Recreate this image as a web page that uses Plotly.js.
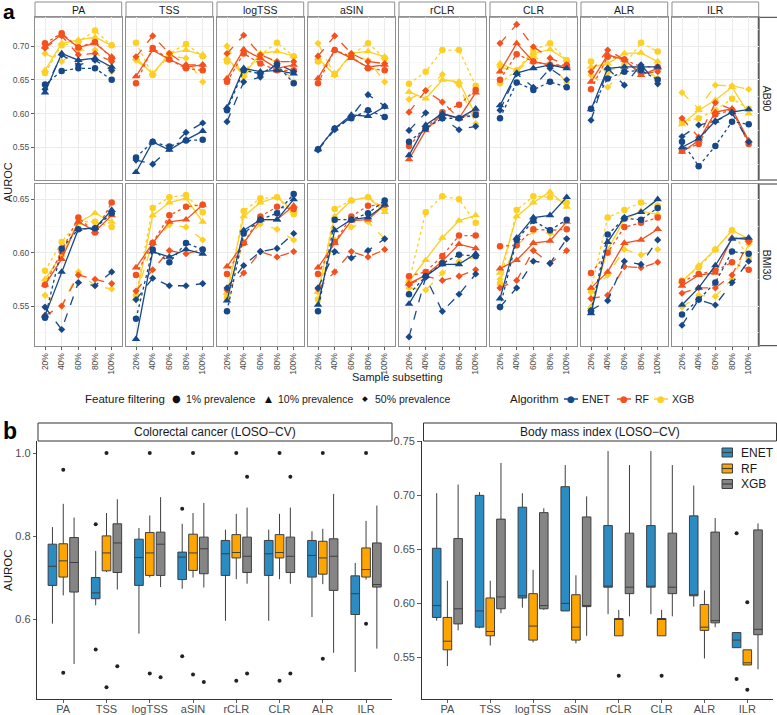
<!DOCTYPE html>
<html><head><meta charset="utf-8">
<script src="https://cdn.plot.ly/plotly-3.0.1.min.js"></script>
<style>html,body{margin:0;padding:0;background:#fff}#chart{width:777px;height:715px}</style>
</head><body><div id="chart"></div>
<script>
// ---------- categories ----------
const normalizations = ['PA','TSS','logTSS','aSIN','rCLR','CLR','ALR','ILR'];
const subsets = ['20%','40%','60%','80%','100%'];
const algorithms = ['ENET','RF','XGB'];
const filterLevels = ['1% prevalence','10% prevalence','50% prevalence'];
const datasetsA = ['AB90','BMI30'];
const yTicksTop = [0.55,0.60,0.65,0.70];
const yTicksBottom = [0.55,0.60,0.65];

// ---------- panel a values: rows = [1%, 10%, 50%] prevalence, cols = subsets ----------
// AB90
const AB90_PA_ENET = [[0.643,0.663,0.667,0.667,0.650],[0.631,0.689,0.679,0.682,0.669],[0.636,0.687,0.672,0.679,0.664]];
const AB90_PA_RF   = [[0.704,0.719,0.698,0.706,0.682],[0.699,0.717,0.698,0.704,0.684],[0.697,0.715,0.687,0.689,0.677]];
const AB90_PA_XGB  = [[0.660,0.701,0.706,0.723,0.701],[0.664,0.704,0.709,0.713,0.701],[0.689,0.677,0.694,0.694,0.662]];
const AB90_TSS_ENET = [[0.535,0.558,0.551,0.560,0.561],[0.513,0.558,0.546,0.561,0.574],[0.531,0.525,0.548,0.572,0.586]];
const AB90_TSS_RF   = [[0.645,0.697,0.680,0.667,0.664],[0.655,0.694,0.680,0.669,0.672],[0.684,0.715,0.689,0.672,0.672]];
const AB90_TSS_XGB  = [[0.705,0.657,0.689,0.703,0.685],[0.682,0.659,0.689,0.694,0.687],[0.679,0.659,0.685,0.682,0.647]];
const AB90_logTSS_ENET = [[0.605,0.664,0.659,0.672,0.645],[0.609,0.667,0.662,0.664,0.659],[0.588,0.647,0.654,0.674,0.662]];
const AB90_logTSS_RF   = [[0.647,0.689,0.674,0.664,0.664],[0.652,0.695,0.682,0.667,0.672],[0.689,0.716,0.687,0.677,0.677]];
const AB90_logTSS_XGB  = [[0.677,0.662,0.687,0.705,0.685],[0.682,0.657,0.689,0.692,0.685],[0.700,0.654,0.684,0.677,0.647]];
const AB90_aSIN_ENET = [[0.547,0.578,0.593,0.605,0.595],[0.547,0.578,0.598,0.596,0.610],[0.546,0.576,0.595,0.628,0.611]];
const AB90_aSIN_RF   = [[0.645,0.694,0.684,0.667,0.664],[0.652,0.694,0.682,0.669,0.672],[0.685,0.715,0.689,0.677,0.674]];
const AB90_aSIN_XGB  = [[0.677,0.659,0.687,0.704,0.682],[0.682,0.657,0.689,0.692,0.684],[0.704,0.657,0.687,0.679,0.647]];
const AB90_rCLR_ENET = [[0.558,0.578,0.593,0.593,0.598],[0.538,0.583,0.600,0.593,0.607],[0.575,0.601,0.593,0.576,0.581]];
const AB90_rCLR_RF   = [[0.552,0.578,0.602,0.613,0.635],[0.532,0.575,0.599,0.593,0.631],[0.602,0.634,0.617,0.593,0.602]];
const AB90_rCLR_XGB  = [[0.644,0.662,0.694,0.694,0.641],[0.632,0.622,0.650,0.647,0.598],[0.621,0.634,0.658,0.642,0.585]];
const AB90_CLR_ENET = [[0.593,0.646,0.635,0.647,0.639],[0.612,0.660,0.667,0.672,0.667],[0.605,0.659,0.639,0.667,0.650]];
const AB90_CLR_RF   = [[0.650,0.688,0.677,0.672,0.672],[0.662,0.704,0.677,0.672,0.670],[0.704,0.732,0.699,0.682,0.672]];
const AB90_CLR_XGB  = [[0.645,0.664,0.694,0.704,0.679],[0.674,0.664,0.689,0.695,0.679],[0.669,0.662,0.684,0.674,0.646]];
const AB90_ALR_ENET = [[0.607,0.652,0.662,0.664,0.650],[0.606,0.667,0.669,0.669,0.669],[0.590,0.667,0.642,0.672,0.644]];
const AB90_ALR_RF   = [[0.636,0.684,0.680,0.669,0.669],[0.647,0.687,0.680,0.657,0.667],[0.662,0.694,0.680,0.659,0.662]];
const AB90_ALR_XGB  = [[0.677,0.662,0.672,0.705,0.692],[0.669,0.674,0.689,0.690,0.677],[0.657,0.639,0.664,0.669,0.652]];
const AB90_ILR_ENET = [[0.558,0.522,0.552,0.588,0.584],[0.550,0.563,0.589,0.602,0.606],[0.566,0.583,0.588,0.601,0.558]];
const AB90_ILR_RF   = [[0.545,0.555,0.599,0.605,0.555],[0.543,0.560,0.602,0.607,0.560],[0.593,0.565,0.616,0.606,0.558]];
const AB90_ILR_XGB  = [[0.588,0.593,0.605,0.622,0.607],[0.584,0.605,0.620,0.639,0.600],[0.631,0.607,0.642,0.641,0.636]];
// BMI30
const BMI30_PA_ENET = [[0.539,0.604,0.622,0.623,0.637],[0.541,0.582,0.622,0.623,0.640],[0.549,0.528,0.572,0.569,0.582]];
const BMI30_PA_RF   = [[0.570,0.601,0.633,0.619,0.647],[0.570,0.594,0.629,0.620,0.635],[0.541,0.550,0.579,0.575,0.571]];
const BMI30_PA_XGB  = [[0.583,0.610,0.629,0.629,0.624],[0.575,0.598,0.628,0.637,0.629],[0.560,0.550,0.582,0.569,0.566]];
const BMI30_TSS_ENET = [[0.538,0.603,0.591,0.609,0.603],[0.519,0.601,0.596,0.603,0.599],[0.556,0.576,0.569,0.569,0.571]];
const BMI30_TSS_RF   = [[0.579,0.609,0.635,0.643,0.645],[0.586,0.609,0.629,0.631,0.645],[0.564,0.584,0.602,0.599,0.603]];
const BMI30_TSS_XGB  = [[0.560,0.642,0.652,0.654,0.638],[0.557,0.635,0.647,0.651,0.629],[0.560,0.610,0.626,0.624,0.612]];
const BMI30_logTSS_ENET = [[0.545,0.618,0.631,0.637,0.655],[0.555,0.621,0.631,0.631,0.650],[0.567,0.588,0.601,0.604,0.618]];
const BMI30_logTSS_RF   = [[0.580,0.609,0.634,0.643,0.641],[0.587,0.609,0.631,0.631,0.644],[0.565,0.581,0.601,0.596,0.601]];
const BMI30_logTSS_XGB  = [[0.558,0.639,0.651,0.652,0.636],[0.562,0.634,0.647,0.652,0.639],[0.562,0.610,0.627,0.622,0.612]];
const BMI30_aSIN_ENET = [[0.545,0.631,0.631,0.637,0.649],[0.551,0.621,0.631,0.633,0.645],[0.567,0.601,0.595,0.602,0.613]];
const BMI30_aSIN_RF   = [[0.580,0.610,0.634,0.644,0.645],[0.586,0.609,0.630,0.631,0.645],[0.566,0.582,0.601,0.596,0.603]];
const BMI30_aSIN_XGB  = [[0.556,0.641,0.649,0.652,0.641],[0.563,0.634,0.649,0.652,0.638],[0.563,0.612,0.624,0.629,0.613]];
const BMI30_rCLR_ENET = [[0.561,0.578,0.590,0.598,0.597],[0.552,0.578,0.589,0.589,0.599],[0.521,0.577,0.545,0.561,0.580]];
const BMI30_rCLR_RF   = [[0.578,0.582,0.597,0.616,0.616],[0.571,0.579,0.592,0.608,0.604],[0.570,0.578,0.574,0.578,0.584]];
const BMI30_rCLR_XGB  = [[0.573,0.638,0.653,0.650,0.628],[0.573,0.593,0.614,0.630,0.635],[0.567,0.565,0.581,0.592,0.596]];
const BMI30_CLR_ENET = [[0.549,0.612,0.630,0.621,0.631],[0.557,0.614,0.633,0.635,0.652],[0.549,0.567,0.592,0.590,0.613]];
const BMI30_CLR_RF   = [[0.606,0.607,0.622,0.621,0.622],[0.585,0.593,0.609,0.611,0.629],[0.567,0.574,0.602,0.590,0.602]];
const BMI30_CLR_XGB  = [[0.571,0.640,0.653,0.652,0.647],[0.581,0.634,0.647,0.657,0.643],[0.575,0.607,0.620,0.618,0.613]];
const BMI30_ALR_ENET = [[0.545,0.617,0.632,0.631,0.642],[0.543,0.610,0.633,0.638,0.650],[0.546,0.555,0.592,0.589,0.612]];
const BMI30_ALR_RF   = [[0.581,0.600,0.624,0.628,0.633],[0.567,0.582,0.609,0.612,0.622],[0.557,0.560,0.587,0.586,0.591]];
const BMI30_ALR_XGB  = [[0.565,0.633,0.640,0.647,0.644],[0.549,0.603,0.631,0.639,0.636],[0.563,0.579,0.603,0.598,0.603]];
const BMI30_ILR_ENET = [[0.542,0.556,0.572,0.601,0.599],[0.551,0.567,0.588,0.613,0.614],[0.532,0.556,0.551,0.572,0.592]];
const BMI30_ILR_RF   = [[0.573,0.580,0.583,0.591,0.584],[0.569,0.579,0.581,0.614,0.612],[0.562,0.567,0.567,0.579,0.610]];
const BMI30_ILR_XGB  = [[0.574,0.586,0.603,0.621,0.595],[0.573,0.588,0.603,0.621,0.613],[0.549,0.560,0.559,0.575,0.608]];

// ---------- panel b box statistics (per normalization) ----------
const CRC_ENET_lower  = [0.590,0.634,0.566,0.674,0.597,0.597,0.606,0.474];
const CRC_ENET_q1     = [0.682,0.650,0.682,0.696,0.706,0.706,0.702,0.612];
const CRC_ENET_median = [0.728,0.664,0.749,0.750,0.758,0.758,0.754,0.662];
const CRC_ENET_q3     = [0.781,0.701,0.793,0.762,0.790,0.790,0.790,0.705];
const CRC_ENET_upper  = [0.822,0.765,0.820,0.830,0.816,0.816,0.812,0.736];
const CRC_ENET_out    = [[],[0.829,0.528],[],[0.866,0.512],[],[],[],[]];
const CRC_RF_lower  = [0.658,0.714,0.701,0.701,0.697,0.697,0.685,0.696];
const CRC_RF_q1     = [0.702,0.717,0.706,0.718,0.748,0.748,0.709,0.702];
const CRC_RF_median = [0.741,0.760,0.760,0.760,0.761,0.761,0.748,0.720];
const CRC_RF_q3     = [0.782,0.801,0.809,0.805,0.804,0.804,0.788,0.772];
const CRC_RF_upper  = [0.878,0.856,0.850,0.856,0.854,0.854,0.818,0.837];
const CRC_RF_out    = [[0.960,0.472],[1.0,0.437],[1.0,0.470],[1.0,0.468],[1.0,0.453],[1.0,0.453],[1.0,0.506],[1.0,0.590]];
const CRC_XGB_lower  = [0.493,0.672,0.678,0.677,0.686,0.686,0.520,0.530];
const CRC_XGB_q1     = [0.666,0.713,0.706,0.710,0.713,0.713,0.670,0.678];
const CRC_XGB_median = [0.737,0.784,0.781,0.770,0.752,0.752,0.752,0.684];
const CRC_XGB_q3     = [0.797,0.830,0.810,0.798,0.798,0.798,0.794,0.784];
const CRC_XGB_upper  = [0.845,0.889,0.894,0.880,0.869,0.869,0.902,0.874];
const CRC_XGB_out    = [[],[0.488],[0.461],[0.450],[0.943,0.470],[0.943,0.470],[],[]];

const BMI_ENET_lower  = [0.584,0.577,0.596,0.593,0.590,0.590,0.597,0.559];
const BMI_ENET_q1     = [0.587,0.578,0.605,0.593,0.615,0.615,0.607,0.559];
const BMI_ENET_median = [0.598,0.593,0.607,0.600,0.615,0.615,0.608,0.566];
const BMI_ENET_q3     = [0.651,0.700,0.689,0.708,0.672,0.672,0.681,0.573];
const BMI_ENET_upper  = [0.702,0.703,0.702,0.728,0.741,0.741,0.709,0.573];
const BMI_ENET_out    = [[],[],[],[],[],[],[],[0.665,0.530]];
const BMI_RF_lower  = [0.542,0.561,0.564,0.563,0.570,0.570,0.549,0.543];
const BMI_RF_q1     = [0.557,0.570,0.566,0.566,0.570,0.570,0.575,0.543];
const BMI_RF_median = [0.565,0.574,0.579,0.578,0.586,0.586,0.578,0.545];
const BMI_RF_q3     = [0.587,0.605,0.609,0.608,0.586,0.586,0.599,0.557];
const BMI_RF_upper  = [0.621,0.621,0.631,0.626,0.594,0.594,0.612,0.557];
const BMI_RF_out    = [[],[],[],[],[0.533],[0.533],[],[0.601,0.520]];
const BMI_XGB_lower  = [0.575,0.591,0.594,0.570,0.588,0.588,0.578,0.539];
const BMI_XGB_q1     = [0.581,0.595,0.595,0.597,0.609,0.609,0.582,0.571];
const BMI_XGB_median = [0.595,0.606,0.598,0.598,0.615,0.615,0.584,0.576];
const BMI_XGB_q3     = [0.660,0.678,0.684,0.680,0.665,0.665,0.666,0.668];
const BMI_XGB_upper  = [0.710,0.730,0.688,0.699,0.728,0.728,0.679,0.674];
const BMI_XGB_out    = [[],[],[],[],[],[],[],[]];

// ---------- tables built from the arrays ----------
const tableA = {
  AB90: {PA:[AB90_PA_ENET,AB90_PA_RF,AB90_PA_XGB], TSS:[AB90_TSS_ENET,AB90_TSS_RF,AB90_TSS_XGB],
    logTSS:[AB90_logTSS_ENET,AB90_logTSS_RF,AB90_logTSS_XGB], aSIN:[AB90_aSIN_ENET,AB90_aSIN_RF,AB90_aSIN_XGB],
    rCLR:[AB90_rCLR_ENET,AB90_rCLR_RF,AB90_rCLR_XGB], CLR:[AB90_CLR_ENET,AB90_CLR_RF,AB90_CLR_XGB],
    ALR:[AB90_ALR_ENET,AB90_ALR_RF,AB90_ALR_XGB], ILR:[AB90_ILR_ENET,AB90_ILR_RF,AB90_ILR_XGB]},
  BMI30: {PA:[BMI30_PA_ENET,BMI30_PA_RF,BMI30_PA_XGB], TSS:[BMI30_TSS_ENET,BMI30_TSS_RF,BMI30_TSS_XGB],
    logTSS:[BMI30_logTSS_ENET,BMI30_logTSS_RF,BMI30_logTSS_XGB], aSIN:[BMI30_aSIN_ENET,BMI30_aSIN_RF,BMI30_aSIN_XGB],
    rCLR:[BMI30_rCLR_ENET,BMI30_rCLR_RF,BMI30_rCLR_XGB], CLR:[BMI30_CLR_ENET,BMI30_CLR_RF,BMI30_CLR_XGB],
    ALR:[BMI30_ALR_ENET,BMI30_ALR_RF,BMI30_ALR_XGB], ILR:[BMI30_ILR_ENET,BMI30_ILR_RF,BMI30_ILR_XGB]}
};
const tableB = [
  {title:'Colorectal cancer (LOSO\u2212CV)', stats:[
    [CRC_ENET_lower,CRC_ENET_q1,CRC_ENET_median,CRC_ENET_q3,CRC_ENET_upper,CRC_ENET_out],
    [CRC_RF_lower,CRC_RF_q1,CRC_RF_median,CRC_RF_q3,CRC_RF_upper,CRC_RF_out],
    [CRC_XGB_lower,CRC_XGB_q1,CRC_XGB_median,CRC_XGB_q3,CRC_XGB_upper,CRC_XGB_out]]},
  {title:'Body mass index (LOSO\u2212CV)', stats:[
    [BMI_ENET_lower,BMI_ENET_q1,BMI_ENET_median,BMI_ENET_q3,BMI_ENET_upper,BMI_ENET_out],
    [BMI_RF_lower,BMI_RF_q1,BMI_RF_median,BMI_RF_q3,BMI_RF_upper,BMI_RF_out],
    [BMI_XGB_lower,BMI_XGB_q1,BMI_XGB_median,BMI_XGB_q3,BMI_XGB_upper,BMI_XGB_out]]}
];

// ---------- styles ----------
const W = 777, H = 715;
const FONT = 'Liberation Sans, Arial, Helvetica, sans-serif';
const lineColors = {ENET:'#17498A', RF:'#F4511E', XGB:'#FDD023'};
const boxColors = {ENET:'#2B8BC3', RF:'#FFA500', XGB:'#858585'};
const filterSymbols = ['circle','triangle-up','diamond'];
const filterSizes = [6.5,7.5,5.5];
const filterDash = ['dot','solid','dash'];
const drawOrder = ['XGB','RF','ENET'];

const px = x => x / W;
const py = y => 1 - y / H;
const axName = (p, i) => i === 1 ? p : p + i;

const colLeft = 35, colWidth = 86.7, colStep = 91.0;
const rowsA = [[17.3, 180], [184, 345.7]];
const rangesA = [[0.5015, 0.7426], [0.5128, 0.6644]];
const tickSetsA = [yTicksTop, yTicksBottom];

const data = [];
const layout = {
  width: W, height: H, margin: {l:0, r:0, t:0, b:0},
  paper_bgcolor: '#fff', plot_bgcolor: '#fff', showlegend: false,
  font: {family: FONT, color: '#1A1A1A'},
  shapes: [], annotations: []
};

// ---------- panel a ----------
datasetsA.forEach((ds, r) => {
  normalizations.forEach((nm, c) => {
    const idx = r * 8 + c + 1;
    const x0 = colLeft + c * colStep, x1 = x0 + colWidth;
    const [yt, yb] = rowsA[r];
    layout[axName('xaxis', idx)] = {
      domain: [px(x0), px(x1)], anchor: axName('y', idx),
      type: 'category', categoryorder: 'array', categoryarray: subsets,
      range: [-0.6, 4.6], showgrid: true, gridcolor: '#EBEBEB', gridwidth: 1,
      showline: true, mirror: true, linecolor: '#8F8F8F', linewidth: 1, zeroline: false,
      showticklabels: r === 1, ticks: r === 1 ? 'outside' : '', ticklen: 3, tickwidth: 0.8, tickcolor: '#333',
      tickangle: -90, tickfont: {size: 8.5, color: '#4D4D4D', family: FONT}
    };
    layout[axName('yaxis', idx)] = {
      domain: [py(yb), py(yt)], anchor: axName('x', idx),
      range: rangesA[r], tickvals: tickSetsA[r], tickformat: '.2f',
      showgrid: true, gridcolor: '#EBEBEB', gridwidth: 1,
      minor: {dtick: 0.025, tick0: 0, showgrid: true, gridcolor: '#F3F3F3', gridwidth: 0.6},
      showline: true, mirror: true, linecolor: '#8F8F8F', linewidth: 1, zeroline: false,
      showticklabels: c === 0, ticks: c === 0 ? 'outside' : '', ticklen: 3, tickwidth: 0.8, tickcolor: '#333',
      tickfont: {size: 8.5, color: '#4D4D4D', family: FONT}
    };
    const rowsForPanel = tableA[ds][nm];
    drawOrder.forEach(alg => {
      const ai = algorithms.indexOf(alg);
      filterLevels.forEach((f, fi) => {
        data.push({
          type: 'scatter', mode: 'lines+markers',
          x: subsets, y: rowsForPanel[ai][fi],
          xaxis: axName('x', idx), yaxis: axName('y', idx),
          line: {color: lineColors[alg], width: 1.3, dash: filterDash[fi]},
          marker: {symbol: filterSymbols[fi], size: filterSizes[fi], color: lineColors[alg]},
          showlegend: false, hoverinfo: 'skip'
        });
      });
    });
    if (r === 0) {
      layout.shapes.push({type:'rect', xref:'paper', yref:'paper', x0:px(x0), x1:px(x1), y0:py(17.3), y1:py(2),
        fillcolor:'#FFFFFF', line:{color:'#8F8F8F', width:1}, layer:'below'});
      layout.annotations.push({xref:'paper', yref:'paper', x:px((x0+x1)/2), y:py(9.7), text:nm, showarrow:false,
        font:{size:10.5, color:'#1A1A1A', family:FONT}, xanchor:'center', yanchor:'middle'});
    }
  });
  const [yt, yb] = rowsA[r];
  layout.shapes.push({type:'rect', xref:'paper', yref:'paper', x0:px(758.3), x1:px(790), y0:py(yb), y1:py(yt),
    fillcolor:'#FFFFFF', line:{color:'#333333', width:1}, layer:'below'});
  layout.annotations.push({xref:'paper', yref:'paper', x:px(767), y:py((yt+yb)/2), text:ds, textangle:90,
    showarrow:false, font:{size:10.5, color:'#1A1A1A', family:FONT}, xanchor:'center', yanchor:'middle'});
});

layout.annotations.push({xref:'paper', yref:'paper', x:px(1), y:py(11.5), text:'<b>a</b>', showarrow:false,
  font:{size:21, color:'#000', family:FONT}, xanchor:'left', yanchor:'middle'});
layout.annotations.push({xref:'paper', yref:'paper', x:px(8), y:py(182), text:'AUROC', textangle:-90, showarrow:false,
  font:{size:11, color:'#1A1A1A', family:FONT}, xanchor:'center', yanchor:'middle'});
layout.annotations.push({xref:'paper', yref:'paper', x:px(397), y:py(377), text:'Sample subsetting', showarrow:false,
  font:{size:11, color:'#1A1A1A', family:FONT}, xanchor:'center', yanchor:'middle'});

// panel a legends
const legY = 399;
layout.annotations.push({xref:'paper', yref:'paper', x:px(82.5), y:py(legY), text:'Feature filtering', showarrow:false,
  font:{size:11.5, color:'#1A1A1A', family:FONT}, xanchor:'left', yanchor:'middle'});
const filterGlyphs = ['\u25CF','\u25B2','\u25C6'];
const filterGlyphSize = [10, 9, 7.5];
const filterKeyX = [176, 268, 365];
filterLevels.forEach((f, i) => {
  layout.annotations.push({xref:'paper', yref:'paper', x:px(filterKeyX[i]), y:py(legY), text:filterGlyphs[i], showarrow:false,
    font:{size:filterGlyphSize[i], color:'#111', family:'DejaVu Sans'}, xanchor:'center', yanchor:'middle'});
  layout.annotations.push({xref:'paper', yref:'paper', x:px(filterKeyX[i] + 8), y:py(legY), text:f, showarrow:false,
    font:{size:10.5, color:'#1A1A1A', family:FONT}, xanchor:'left', yanchor:'middle'});
});
layout.annotations.push({xref:'paper', yref:'paper', x:px(507.5), y:py(legY), text:'Algorithm', showarrow:false,
  font:{size:11.5, color:'#1A1A1A', family:FONT}, xanchor:'left', yanchor:'middle'});
const algKeyX = [571, 624, 661];
algorithms.forEach((a, i) => {
  layout.shapes.push({type:'line', xref:'paper', yref:'paper', x0:px(algKeyX[i]-7), x1:px(algKeyX[i]+7), y0:py(legY), y1:py(legY),
    line:{color:lineColors[a], width:1.5}});
  layout.annotations.push({xref:'paper', yref:'paper', x:px(algKeyX[i]), y:py(legY), text:'\u25CF', showarrow:false,
    font:{size:9, color:lineColors[a], family:'DejaVu Sans'}, xanchor:'center', yanchor:'middle'});
  layout.annotations.push({xref:'paper', yref:'paper', x:px(algKeyX[i] + 9), y:py(legY), text:a, showarrow:false,
    font:{size:10.5, color:'#1A1A1A', family:FONT}, xanchor:'left', yanchor:'middle'});
});

// ---------- panel b ----------
const panelsB = [
  {x0:37.3, x1:392, range:[0.409, 1.029], tickvals:[0.6,0.8,1.0], fmt:'.1f', strip:[38, 392]},
  {x0:421.7, x1:773, range:[0.5115, 0.7503], tickvals:[0.55,0.60,0.65,0.70,0.75], fmt:'.2f', strip:[423.5, 776.5]}
];
const offsetsB = [-0.25, 0, 0.25];
tableB.forEach((pb, k) => {
  const idx = 17 + k;
  const P = panelsB[k];
  layout[axName('xaxis', idx)] = {
    domain:[px(P.x0), px(P.x1)], anchor: axName('y', idx), range:[-0.6, 7.6],
    tickvals: normalizations.map((_, i) => i), ticktext: normalizations,
    showgrid:false, zeroline:false, showline:true, linecolor:'#333', linewidth:1,
    ticks:'outside', ticklen:3, tickcolor:'#333', tickwidth:0.8, ticklabelstandoff:-3,
    tickfont:{size:11, color:'#4D4D4D', family:FONT}
  };
  layout[axName('yaxis', idx)] = {
    domain:[py(699), py(441)], anchor: axName('x', idx), range:P.range,
    tickvals:P.tickvals, tickformat:P.fmt, showgrid:false, zeroline:false,
    showline:true, linecolor:'#333', linewidth:1, ticks:'outside', ticklen:3.5, tickcolor:'#333', tickwidth:0.8,
    tickfont:{size:11, color:'#4D4D4D', family:FONT}
  };
  algorithms.forEach((alg, ai) => {
    const [lo, q1, med, q3, hi, outs] = pb.stats[ai];
    const xs = normalizations.map((_, i) => i + offsetsB[ai]);
    data.push({
      type:'box', x: xs, lowerfence: lo, q1: q1, median: med, q3: q3, upperfence: hi,
      width: 0.2, whiskerwidth: 0, boxpoints: false,
      fillcolor: boxColors[alg], line:{color:'#3F3F3F', width:1},
      xaxis: axName('x', idx), yaxis: axName('y', idx), showlegend:false, hoverinfo:'skip'
    });
    const ox = [], oy = [];
    outs.forEach((vals, i) => vals.forEach(v => { ox.push(i + offsetsB[ai]); oy.push(v); }));
    data.push({
      type:'scatter', mode:'markers', x: ox, y: oy,
      marker:{size:4, color:'#222'}, xaxis: axName('x', idx), yaxis: axName('y', idx),
      showlegend:false, hoverinfo:'skip', cliponaxis:false
    });
  });
  layout.shapes.push({type:'rect', xref:'paper', yref:'paper', x0:px(P.strip[0]), x1:px(P.strip[1]), y0:py(441), y1:py(423),
    fillcolor:'#FFFFFF', line:{color:'#333', width:1}});
  layout.annotations.push({xref:'paper', yref:'paper', x:px((P.strip[0]+P.strip[1])/2), y:py(432), text:pb.title, showarrow:false,
    font:{size:12, color:'#1A1A1A', family:FONT}, xanchor:'center', yanchor:'middle'});
});
layout.annotations.push({xref:'paper', yref:'paper', x:px(1), y:py(431), text:'<b>b</b>', showarrow:false,
  font:{size:23, color:'#000', family:FONT}, xanchor:'left', yanchor:'middle'});
layout.annotations.push({xref:'paper', yref:'paper', x:px(8), y:py(570), text:'AUROC', textangle:-90, showarrow:false,
  font:{size:11.5, color:'#1A1A1A', family:FONT}, xanchor:'center', yanchor:'middle'});

// panel b legend
const legBY = [452.5, 468.5, 484];
algorithms.forEach((a, i) => {
  const y = legBY[i];
  layout.shapes.push({type:'rect', xref:'paper', yref:'paper', x0:px(722), x1:px(732.5), y0:py(y+4.5), y1:py(y-4.5),
    fillcolor:boxColors[a], line:{color:'#3F3F3F', width:1}});
  layout.shapes.push({type:'line', xref:'paper', yref:'paper', x0:px(722), x1:px(732.5), y0:py(y), y1:py(y),
    line:{color:'#3F3F3F', width:1.2}});
  layout.annotations.push({xref:'paper', yref:'paper', x:px(739), y:py(y), text:a, showarrow:false,
    font:{size:12, color:'#1A1A1A', family:FONT}, xanchor:'left', yanchor:'middle'});
});

Plotly.newPlot('chart', data, layout, {staticPlot:true, displayModeBar:false});
</script>
</body></html>
